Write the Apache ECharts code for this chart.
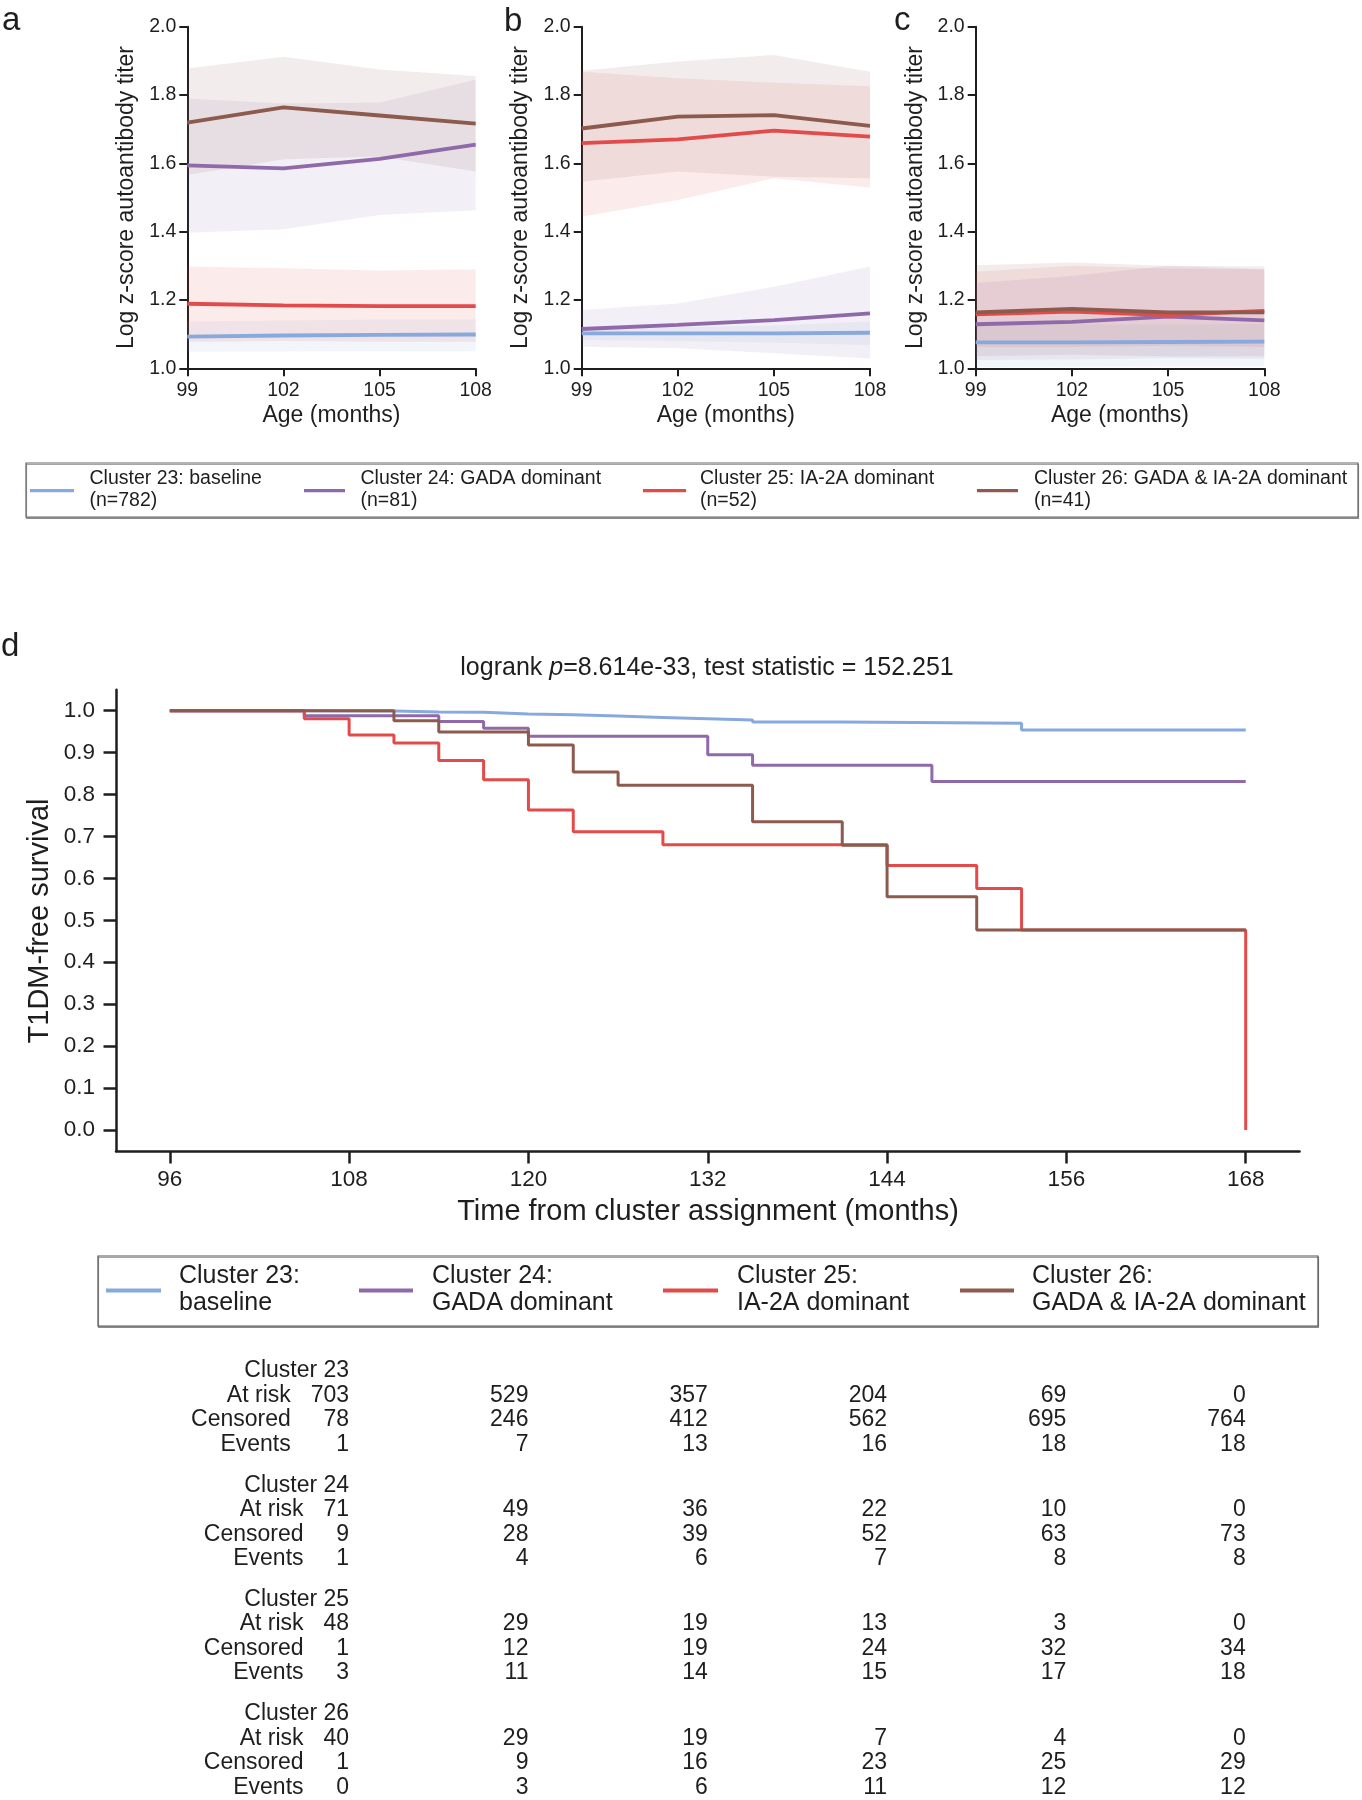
<!DOCTYPE html>
<html><head><meta charset="utf-8">
<script src="https://cdn.jsdelivr.net/npm/echarts@6/dist/echarts.min.js"></script>
<style>html,body{margin:0;padding:0;background:#fff}#c{width:1362px;height:1800px}</style>
</head><body><div id="c"></div>
<script>
// ---------------- DATA ----------------
const clusterLabels = ['Cluster 23', 'Cluster 24', 'Cluster 25', 'Cluster 26'];
const clusterDescs = ['baseline', 'GADA dominant', 'IA-2A dominant', 'GADA & IA-2A dominant'];
const clusterSizes = [782, 81, 52, 41];
const clusterColors = ['#87a9dd', '#8f69aa', '#e34a4a', '#8d5a4e'];

const ageMonths = [99, 102, 105, 108];
const ageTicks = [99, 102, 105, 108];
const titerTicks = [1.0, 1.2, 1.4, 1.6, 1.8, 2.0];

// panel a
const a23Mean = [1.093, 1.096, 1.098, 1.099];
const a23Lo = [1.049, 1.049, 1.050, 1.050];
const a23Hi = [1.137, 1.140, 1.143, 1.143];
const a24Mean = [1.594, 1.585, 1.613, 1.655];
const a24Lo = [1.397, 1.407, 1.449, 1.463];
const a24Hi = [1.790, 1.775, 1.778, 1.845];
const a25Mean = [1.189, 1.184, 1.182, 1.182];
const a25Lo = [1.078, 1.080, 1.078, 1.078];
const a25Hi = [1.298, 1.293, 1.286, 1.290];
const a26Mean = [1.719, 1.764, 1.740, 1.716];
const a26Lo = [1.566, 1.612, 1.620, 1.576];
const a26Hi = [1.878, 1.912, 1.875, 1.856];
// panel b
const b23Mean = [1.102, 1.102, 1.102, 1.104];
const b23Lo = [1.083, 1.080, 1.075, 1.068];
const b23Hi = [1.117, 1.120, 1.125, 1.137];
const b24Mean = [1.115, 1.127, 1.141, 1.161];
const b24Lo = [1.063, 1.059, 1.044, 1.029];
const b24Hi = [1.171, 1.190, 1.239, 1.298];
const b25Mean = [1.659, 1.670, 1.696, 1.678];
const b25Lo = [1.444, 1.493, 1.556, 1.529];
const b25Hi = [1.868, 1.849, 1.836, 1.826];
const b26Mean = [1.702, 1.737, 1.741, 1.710];
const b26Lo = [1.546, 1.576, 1.561, 1.556];
const b26Hi = [1.871, 1.898, 1.917, 1.868];
// panel c
const c23Mean = [1.076, 1.076, 1.077, 1.078];
const c23Lo = [1.003, 1.004, 1.005, 1.005];
const c23Hi = [1.130, 1.128, 1.128, 1.130];
const c24Mean = [1.129, 1.136, 1.151, 1.140];
const c24Lo = [1.024, 1.026, 1.030, 1.028];
const c24Hi = [1.250, 1.270, 1.300, 1.290];
const c25Mean = [1.158, 1.166, 1.156, 1.168];
const c25Lo = [1.062, 1.062, 1.066, 1.062];
const c25Hi = [1.283, 1.300, 1.292, 1.290];
const c26Mean = [1.164, 1.174, 1.164, 1.164];
const c26Lo = [1.035, 1.040, 1.035, 1.035];
const c26Hi = [1.302, 1.310, 1.300, 1.298];

// panel d : Kaplan-Meier
const km23Time = [96, 105, 111, 114, 117, 120, 123, 126, 129, 132, 135, 141, 153, 168];
const km23Surv = [1.000, 0.999, 0.997, 0.996, 0.992, 0.990, 0.987, 0.984, 0.981, 0.978, 0.973, 0.970, 0.954, 0.954];
const km24Time = [96, 105, 114, 117, 120, 132, 135, 147, 168];
const km24Surv = [1.000, 0.988, 0.974, 0.958, 0.939, 0.895, 0.870, 0.831, 0.831];
const km25Time = [96, 105, 108, 111, 114, 117, 120, 123, 129, 144, 150, 153, 168, 168];
const km25Surv = [1.000, 0.981, 0.942, 0.923, 0.881, 0.835, 0.763, 0.711, 0.680, 0.631, 0.576, 0.477, 0.477, 0.000];
const km26Time = [96, 111, 114, 120, 123, 126, 135, 141, 144, 150, 168];
const km26Surv = [1.000, 0.976, 0.949, 0.918, 0.854, 0.822, 0.735, 0.679, 0.556, 0.477, 0.477];
const kmXTicks = [96, 108, 120, 132, 144, 156, 168];
const kmYTicks = [0.0, 0.1, 0.2, 0.3, 0.4, 0.5, 0.6, 0.7, 0.8, 0.9, 1.0];
const kmTitleStat = 'logrank ';
const kmTitleRest = '=8.614e-33, test statistic = 152.251';

// at-risk table
const riskTimes = [108, 120, 132, 144, 156, 168];
const risk23AtRisk = [703, 529, 357, 204, 69, 0];
const risk23Censored = [78, 246, 412, 562, 695, 764];
const risk23Events = [1, 7, 13, 16, 18, 18];
const risk24AtRisk = [71, 49, 36, 22, 10, 0];
const risk24Censored = [9, 28, 39, 52, 63, 73];
const risk24Events = [1, 4, 6, 7, 8, 8];
const risk25AtRisk = [48, 29, 19, 13, 3, 0];
const risk25Censored = [1, 12, 19, 24, 32, 34];
const risk25Events = [3, 11, 14, 15, 17, 18];
const risk26AtRisk = [40, 29, 19, 7, 4, 0];
const risk26Censored = [1, 9, 16, 23, 25, 29];
const risk26Events = [0, 3, 6, 11, 12, 12];

// ---------------- BUILD ----------------
const FF = '"Liberation Sans", Arial, Helvetica, sans-serif';
const INK = '#1e1e1e';

const panels = [
  {means: [a23Mean, a24Mean, a25Mean, a26Mean], los: [a23Lo, a24Lo, a25Lo, a26Lo], his: [a23Hi, a24Hi, a25Hi, a26Hi]},
  {means: [b23Mean, b24Mean, b25Mean, b26Mean], los: [b23Lo, b24Lo, b25Lo, b26Lo], his: [b23Hi, b24Hi, b25Hi, b26Hi]},
  {means: [c23Mean, c24Mean, c25Mean, c26Mean], los: [c23Lo, c24Lo, c25Lo, c26Lo], his: [c23Hi, c24Hi, c25Hi, c26Hi]}
];
const kmTimes = [km23Time, km24Time, km25Time, km26Time];
const kmSurvs = [km23Surv, km24Surv, km25Surv, km26Surv];
const riskTables = [
  [risk23AtRisk, risk23Censored, risk23Events],
  [risk24AtRisk, risk24Censored, risk24Events],
  [risk25AtRisk, risk25Censored, risk25Events],
  [risk26AtRisk, risk26Censored, risk26Events]
];

function rgba(hex, a) {
  const n = parseInt(hex.slice(1), 16);
  return 'rgba(' + (n >> 16 & 255) + ',' + (n >> 8 & 255) + ',' + (n & 255) + ',' + a + ')';
}

const grids = [
  {left: 187.3, top: 26.7, width: 288.4, height: 341.6},
  {left: 581.7, top: 26.7, width: 288.3, height: 341.6},
  {left: 975.7, top: 26.7, width: 288.6, height: 341.6},
  {left: 116, top: 689.7, width: 1183.5, height: 461.3}
].map(g => Object.assign({outerBoundsMode: 'none', containLabel: false}, g));

const xAxes = [], yAxes = [], series = [];
for (let p = 0; p < 3; p++) {
  xAxes.push({
    type: 'value', gridIndex: p, min: 99, max: 108, interval: 3,
    axisLine: {show: true, onZero: false, lineStyle: {color: INK, width: 2}},
    axisTick: {show: true, length: 8, lineStyle: {color: INK, width: 2}},
    axisLabel: {show: true, fontSize: 19.5, fontFamily: FF, color: INK, margin: 12},
    splitLine: {show: false}
  });
  yAxes.push({
    type: 'value', gridIndex: p, min: 1.0, max: 2.0, interval: 0.2,
    axisLine: {show: true, onZero: false, lineStyle: {color: INK, width: 2}},
    axisTick: {show: true, length: 8, lineStyle: {color: INK, width: 2}},
    axisLabel: {show: true, fontSize: 19.5, fontFamily: FF, color: INK, margin: 11, formatter: v => v.toFixed(1)},
    splitLine: {show: false}
  });
  const P = panels[p];
  for (let k = 0; k < 4; k++) {
    const bandData = ageMonths.map((m, i) => [m, P.los[k][i], P.his[k][i]]);
    series.push({
      type: 'custom', xAxisIndex: p, yAxisIndex: p, z: 1, silent: true,
      data: bandData, encode: {x: 0, y: [1, 2]},
      renderItem: (params, api) => {
        if (params.dataIndex !== 0) return null;
        const pts = [];
        for (let i = 0; i < bandData.length; i++) pts.push(api.coord([bandData[i][0], bandData[i][2]]));
        for (let i = bandData.length - 1; i >= 0; i--) pts.push(api.coord([bandData[i][0], bandData[i][1]]));
        return {type: 'polygon', shape: {points: pts}, style: {fill: rgba(clusterColors[k], 0.11), stroke: null}};
      }
    });
  }
  for (let k = 0; k < 4; k++) {
    series.push({
      type: 'line', xAxisIndex: p, yAxisIndex: p, z: 3, silent: true,
      data: ageMonths.map((m, i) => [m, P.means[k][i]]),
      symbol: 'none', smooth: false,
      lineStyle: {color: clusterColors[k], width: 3.8},
      itemStyle: {color: clusterColors[k]}
    });
  }
}
// panel d axes
xAxes.push({
  type: 'value', gridIndex: 3, min: 92.4, max: 171.6,
  axisLine: {show: true, onZero: false, lineStyle: {color: INK, width: 2.5}},
  axisTick: {show: true, length: 12.5, customValues: kmXTicks, lineStyle: {color: INK, width: 2.5}},
  axisLabel: {show: true, fontSize: 22.5, fontFamily: FF, color: INK, margin: 17, customValues: kmXTicks},
  splitLine: {show: false}
});
yAxes.push({
  type: 'value', gridIndex: 3, min: -0.05, max: 1.05,
  axisLine: {show: true, onZero: false, lineStyle: {color: INK, width: 2.5}},
  axisTick: {show: true, length: 12.5, customValues: kmYTicks, lineStyle: {color: INK, width: 2.5}},
  axisLabel: {show: true, fontSize: 22.5, fontFamily: FF, color: INK, margin: 21, customValues: kmYTicks, formatter: v => v.toFixed(1)},
  splitLine: {show: false}
});
for (let k = 0; k < 4; k++) {
  series.push({
    type: 'line', xAxisIndex: 3, yAxisIndex: 3, z: 3, silent: true,
    data: kmTimes[k].map((t, i) => [t, kmSurvs[k][i]]),
    step: 'end', symbol: 'none',
    lineStyle: {color: clusterColors[k], width: 3},
    itemStyle: {color: clusterColors[k]}
  });
}

const chart = echarts.init(document.getElementById('c'), null, {renderer: 'canvas', width: 1362, height: 1800});
chart.setOption({
  animation: false, backgroundColor: '#fff',
  grid: grids, xAxis: xAxes, yAxis: yAxes, series: series
});

// ---------------- TEXT / LEGENDS / TABLE ----------------
function txt(x, y, text, size, opts) {
  const o = opts || {};
  return {
    type: 'text', x: x, y: y, rotation: o.rotation || 0, silent: true, z: 10,
    style: Object.assign({
      text: text, fill: INK, font: (o.weight || 'normal') + ' ' + size + 'px ' + FF,
      fontSize: size, fontFamily: FF,
      align: o.align || 'left', textAlign: o.align || 'left',
      verticalAlign: 'middle', textVerticalAlign: 'middle',
      lineHeight: o.lineHeight
    }, o.extra || {})
  };
}
const G = [];
// panel letters
G.push(txt(2, 21, 'a', 33));
G.push(txt(504, 22, 'b', 33));
G.push(txt(894, 21, 'c', 33));
G.push(txt(1, 647, 'd', 33));
// axis titles of top panels
const topNameX = [331.5, 725.8, 1120];
const topYNameX = [127, 520.7, 915.7];
for (let p = 0; p < 3; p++) {
  G.push(txt(topNameX[p], 416, 'Age (months)', 23, {align: 'center'}));
  G.push(txt(topYNameX[p], 197.5, 'Log z-score autoantibody titer', 23, {align: 'center', rotation: Math.PI / 2}));
}
// top legend
G.push({type: 'rect', silent: true, z: 9, shape: {x: 26, y: 463, width: 1332, height: 54},
  style: {fill: '#fff', stroke: '#666', lineWidth: 1.2, shadowColor: 'rgba(0,0,0,0.35)', shadowOffsetY: 1.5, shadowOffsetX: 0.5, shadowBlur: 0}});
const topLegLine = [[30, 74], [304, 345], [643, 686], [977, 1018]];
const topLegText = [89.5, 360.5, 700, 1034];
for (let k = 0; k < 4; k++) {
  G.push({type: 'line', silent: true, z: 10, shape: {x1: topLegLine[k][0], y1: 490.7, x2: topLegLine[k][1], y2: 490.7},
    style: {stroke: clusterColors[k], lineWidth: 3.2}});
  G.push(txt(topLegText[k], 490, clusterLabels[k] + ': ' + clusterDescs[k] + '\n(n=' + clusterSizes[k] + ')', 19.5, {lineHeight: 22}));
}
// KM title and axis titles
G.push({
  type: 'text', x: 707, y: 668, silent: true, z: 10,
  style: {
    text: '{n|' + kmTitleStat + '}{i|p}{n|' + kmTitleRest + '}',
    align: 'center', textAlign: 'center', verticalAlign: 'middle', textVerticalAlign: 'middle',
    rich: {
      n: {fontSize: 25, fontFamily: FF, color: INK, fill: INK},
      i: {fontSize: 25, fontFamily: FF, fontStyle: 'italic', color: INK, fill: INK}
    }
  }
});
G.push(txt(708, 1212, 'Time from cluster assignment (months)', 29, {align: 'center'}));
G.push(txt(40, 921, 'T1DM-free survival', 29, {align: 'center', rotation: Math.PI / 2}));
// bottom legend
G.push({type: 'rect', silent: true, z: 9, shape: {x: 98, y: 1256, width: 1220, height: 70},
  style: {fill: '#fff', stroke: '#555', lineWidth: 1.2, shadowColor: 'rgba(0,0,0,0.35)', shadowOffsetY: 1.5, shadowOffsetX: 0.5, shadowBlur: 0}});
const botLegLine = [[106, 161], [359, 413], [663, 718], [960, 1014]];
const botLegText = [179, 432, 737, 1032];
for (let k = 0; k < 4; k++) {
  G.push({type: 'line', silent: true, z: 10, shape: {x1: botLegLine[k][0], y1: 1290.5, x2: botLegLine[k][1], y2: 1290.5},
    style: {stroke: clusterColors[k], lineWidth: 4}});
  G.push(txt(botLegText[k], 1289.3, clusterLabels[k] + ':\n' + clusterDescs[k], 25, {lineHeight: 27}));
}
// at-risk table
const TFS = 23;
const rowNames = ['At risk', 'Censored', 'Events'];
const colX = riskTimes.map(t => chart.convertToPixel({gridIndex: 3}, [t, 0])[0]);
const blockTop = 1370.8, blockStep = 114.4, rowStep = 24.5;
for (let k = 0; k < 4; k++) {
  const y0 = blockTop + k * blockStep;
  G.push(txt(colX[0], y0, clusterLabels[k], TFS, {align: 'right'}));
  const tbl = riskTables[k];
  const maxDigits = Math.max.apply(null, tbl.map(r => String(r[0]).length));
  const labelRight = colX[0] - maxDigits * 0.556 * TFS - 20;
  for (let r = 0; r < 3; r++) {
    const y = y0 + (r + 1) * rowStep;
    G.push(txt(labelRight, y, rowNames[r], TFS, {align: 'right'}));
    for (let c = 0; c < riskTimes.length; c++) {
      G.push(txt(colX[c], y, String(tbl[r][c]), TFS, {align: 'right'}));
    }
  }
}
chart.setOption({graphic: {elements: G}});
</script>
</body></html>
